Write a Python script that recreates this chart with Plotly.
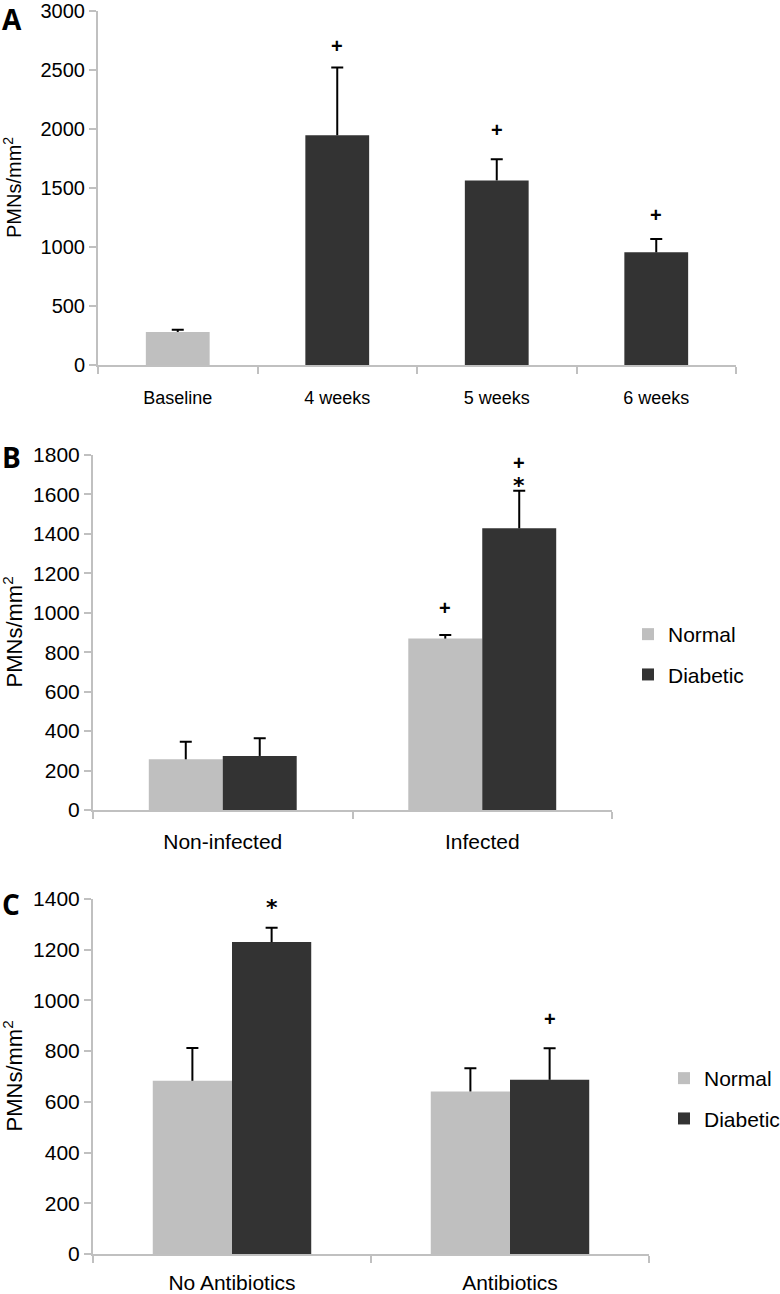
import plotly.graph_objects as go

W, H = 780, 1294

LIGHT = "#bfbfbf"
DARK = "#333333"
AXIS = "#c0c0c0"
FONT = "Liberation Sans, Arial, sans-serif"

# ---------------- Panel A data ----------------
a_cats = ["Baseline", "4 weeks", "5 weeks", "6 weeks"]
a_vals = [280, 1947, 1564, 955]
a_errs = [18, 575, 180, 113]
a_colors = [LIGHT, DARK, DARK, DARK]
a_sig_text = ["+", "+", "+"]
a_sig_cat = ["4 weeks", "5 weeks", "6 weeks"]
a_sig_y = [2700, 1995, 1270]

# ---------------- Panel B data ----------------
b_cats = ["Non-infected", "Infected"]
b_normal = [257, 869]
b_normal_err = [89, 18]
b_diab = [274, 1428]
b_diab_err = [90, 191]
b_sig_text = ["+", "+", "*"]
b_sig_cat = ["Infected", "Infected", "Infected"]
b_sig_group = ["Normal", "Diabetic", "Diabetic"]
b_sig_y = [1024, 1761, 1645]

# ---------------- Panel C data ----------------
c_cats = ["No Antibiotics", "Antibiotics"]
c_normal = [683, 641]
c_normal_err = [129, 92]
c_diab = [1230, 687]
c_diab_err = [57, 124]
c_sig_text = ["*", "+"]
c_sig_cat = ["No Antibiotics", "Antibiotics"]
c_sig_group = ["Diabetic", "Diabetic"]
c_sig_y = [1368, 927]

fig = go.Figure()


def add_bars(cats, vals, errs, color, xa, ya, group, name=None, legend=None,
             width=None, showlegend=False):
    # main bar with vertical error line (no caps)
    fig.add_trace(go.Bar(
        x=cats, y=vals, name=name, marker=dict(color=color, line=dict(width=0)),
        xaxis=xa, yaxis=ya, offsetgroup=group, width=width,
        error_y=dict(type="data", symmetric=False, array=errs,
                     arrayminus=[0] * len(vals), color="black",
                     thickness=2, width=0),
        showlegend=showlegend, legend=legend, legendgroup=name,
        hoverinfo="skip",
    ))
    # transparent bar carrying the cap of the error bar
    tops = [v + e for v, e in zip(vals, errs)]
    fig.add_trace(go.Bar(
        x=cats, y=tops, marker=dict(color="rgba(0,0,0,0)", line=dict(width=0)),
        xaxis=xa, yaxis=ya, offsetgroup=group, width=width,
        error_y=dict(type="data", array=[0.001] * len(vals), color="black",
                     thickness=2, width=6),
        showlegend=False, hoverinfo="skip",
    ))


# Panel A
add_bars(a_cats, a_vals, a_errs, a_colors, "x", "y", "a", width=0.4)
# Panel B
add_bars(b_cats, b_normal, b_normal_err, LIGHT, "x2", "y2", "n",
         name="Normal", legend="legend", showlegend=True)
add_bars(b_cats, b_diab, b_diab_err, DARK, "x2", "y2", "d",
         name="Diabetic", legend="legend", showlegend=True)
# Panel C
add_bars(c_cats, c_normal, c_normal_err, LIGHT, "x3", "y3", "n",
         name="Normal", legend="legend2", showlegend=True)
add_bars(c_cats, c_diab, c_diab_err, DARK, "x3", "y3", "d",
         name="Diabetic", legend="legend2", showlegend=True)


def px_x(p):
    return p / W


def px_y(p):
    return 1 - p / H


xaxis_common = dict(type="category", showline=True, linecolor=AXIS, linewidth=2,
                    ticks="outside", tickson="boundaries", ticklen=7,
                    tickwidth=2, tickcolor=AXIS, showgrid=False, zeroline=False,
                    automargin=False,
                    tickfont=dict(family=FONT, size=21, color="black"))
yaxis_common = dict(showline=True, linecolor=AXIS, linewidth=2, ticks="outside",
                    ticklen=7, tickwidth=2, tickcolor=AXIS, showgrid=False,
                    zeroline=False, automargin=False,
                    tickfont=dict(family=FONT, size=21, color="black"))

fig.update_layout(
    width=W, height=H, margin=dict(l=0, r=0, t=0, b=0, autoexpand=False),
    paper_bgcolor="white", plot_bgcolor="white",
    barmode="group", bargap=0.43, bargroupgap=0,
    xaxis=dict(xaxis_common, domain=[px_x(98), px_x(736)], anchor="y",
               tickfont=dict(family=FONT, size=18, color="black"),
               ticklabelstandoff=15),
    yaxis=dict(yaxis_common, domain=[px_y(365), px_y(11)], anchor="x",
               range=[0, 3000], dtick=500,
               tickfont=dict(family=FONT, size=20, color="black")),
    xaxis2=dict(xaxis_common, domain=[px_x(93), px_x(612)], anchor="y2",
                ticklabelstandoff=12),
    yaxis2=dict(yaxis_common, domain=[px_y(810), px_y(455)], anchor="x2",
                range=[0, 1800], dtick=200),
    xaxis3=dict(xaxis_common, domain=[px_x(93), px_x(649)], anchor="y3",
                ticklabelstandoff=9),
    yaxis3=dict(yaxis_common, domain=[px_y(1254), px_y(899)], anchor="x3",
                range=[0, 1400], dtick=200),
    legend=dict(x=px_x(628), y=px_y(614), xanchor="left", yanchor="top",
                font=dict(family=FONT, size=21, color="black"),
                traceorder="grouped", tracegroupgap=10, bgcolor="rgba(0,0,0,0)"),
    legend2=dict(x=px_x(664), y=px_y(1058), xanchor="left", yanchor="top",
                 font=dict(family=FONT, size=21, color="black"),
                 traceorder="grouped", tracegroupgap=10, bgcolor="rgba(0,0,0,0)"),
)

annotations = []
plus_font = dict(family=FONT, size=20, color="black")
star_font = dict(family="DejaVu Sans, sans-serif", size=22, color="black")


def sig_font(t):
    return star_font if t == "*" else plus_font


for t, c, yv in zip(a_sig_text, a_sig_cat, a_sig_y):
    annotations.append(dict(x=c, y=yv, xref="x", yref="y", text="<b>%s</b>" % t,
                            showarrow=False, font=sig_font(t), yanchor="middle"))
shift_b = {"Normal": -37, "Diabetic": 37}
for t, c, g, yv in zip(b_sig_text, b_sig_cat, b_sig_group, b_sig_y):
    annotations.append(dict(x=c, y=yv, xref="x2", yref="y2", text="<b>%s</b>" % t,
                            showarrow=False, font=sig_font(t), yanchor="middle",
                            xshift=shift_b[g]))
shift_c = {"Normal": -39.5, "Diabetic": 39.5}
for t, c, g, yv in zip(c_sig_text, c_sig_cat, c_sig_group, c_sig_y):
    annotations.append(dict(x=c, y=yv, xref="x3", yref="y3", text="<b>%s</b>" % t,
                            showarrow=False, font=sig_font(t), yanchor="middle",
                            xshift=shift_c[g]))

# y-axis titles
for yc, fs in [((11 + 365) / 2, 20), ((455 + 810) / 2, 22), ((899 + 1254) / 2, 22)]:
    annotations.append(dict(x=px_x(12), y=px_y(yc), xref="paper", yref="paper",
                            text="PMNs/mm<sup>2</sup>", textangle=-90,
                            showarrow=False, xanchor="center", yanchor="middle",
                            font=dict(family=FONT, size=fs, color="black")))

# panel letters
for letter, yc in [("A", 19), ("B", 457), ("C", 904)]:
    annotations.append(dict(x=0, y=px_y(yc), xref="paper", yref="paper",
                            text="<b>%s</b>" % letter, showarrow=False,
                            xanchor="left", yanchor="middle",
                            font=dict(family="Open Sans, sans-serif", size=28,
                                      color="black")))

fig.update_layout(annotations=annotations)
fig.write_html("out.html", config={"displayModeBar": False},
               post_script="document.body.style.margin='0px';")
